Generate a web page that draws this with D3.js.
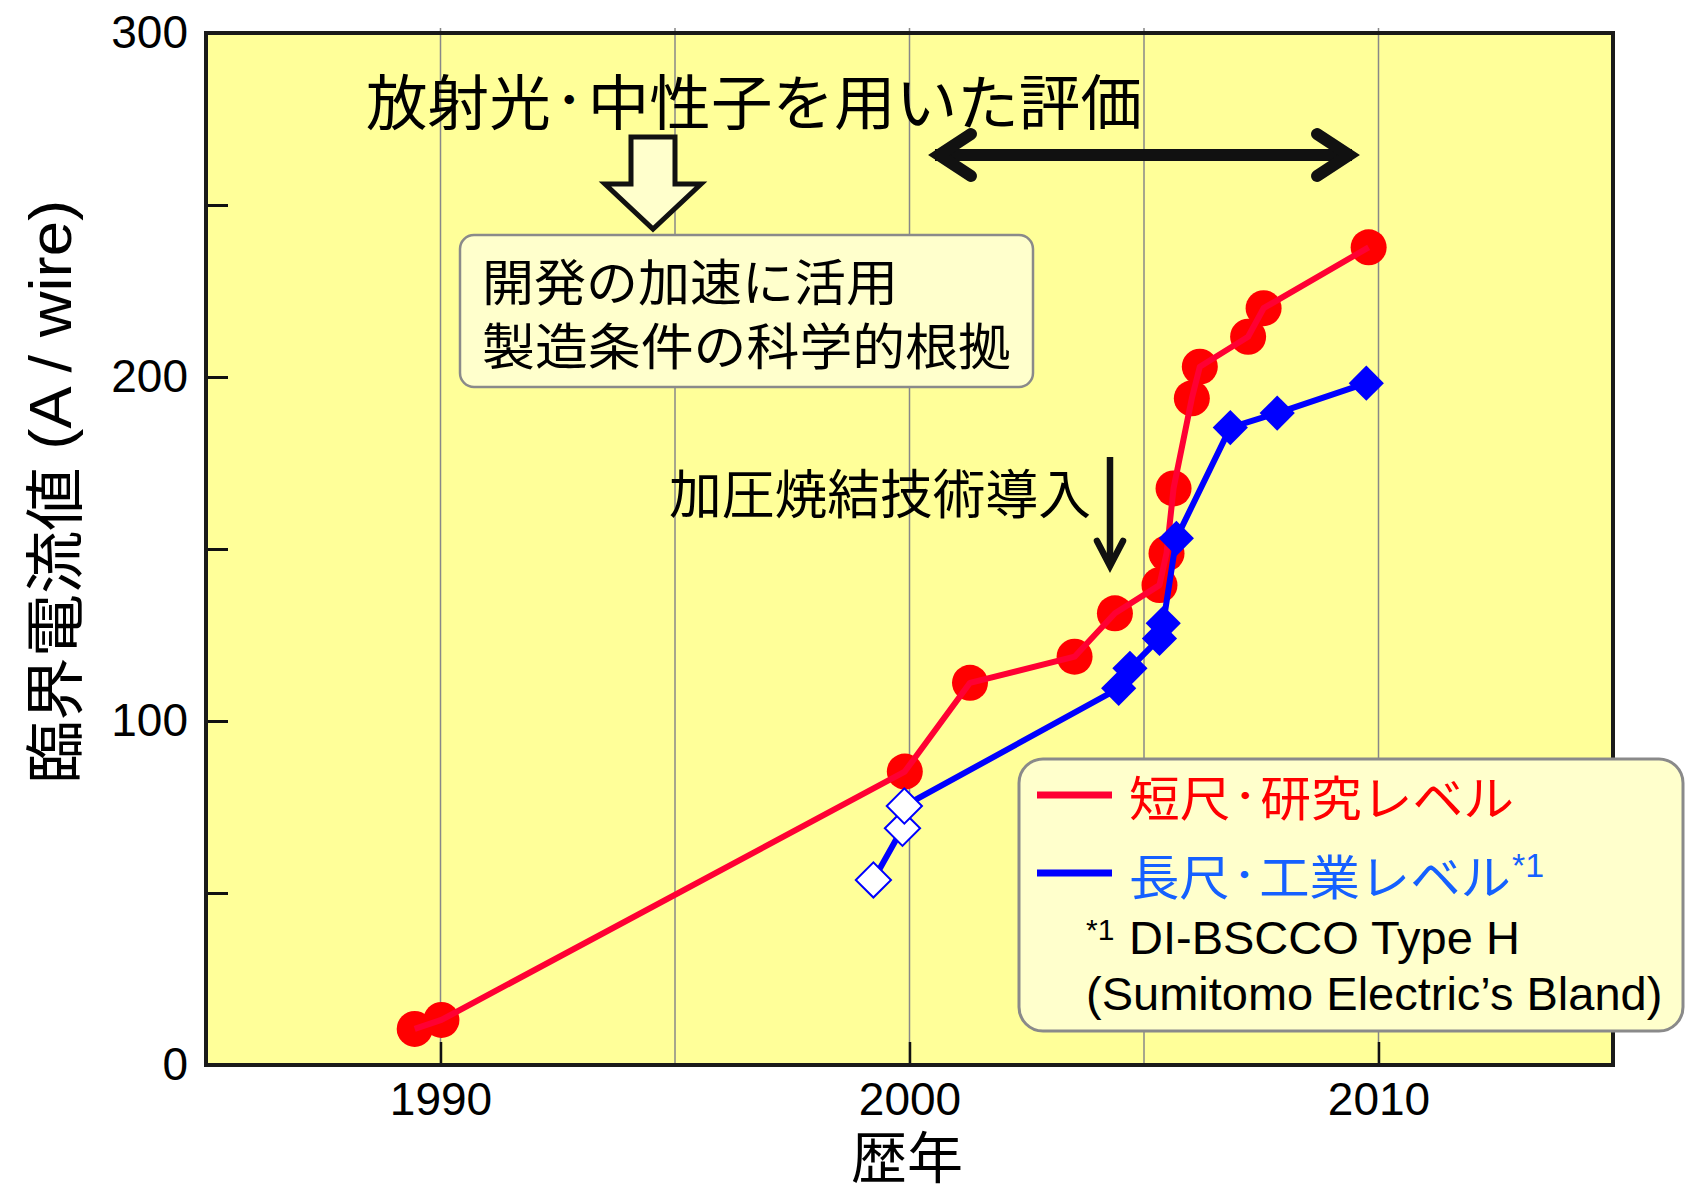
<!DOCTYPE html>
<html><head><meta charset="utf-8">
<script src="https://cdn.jsdelivr.net/npm/d3@7"></script>
<style>
body{margin:0;background:#fff;}
svg{display:block;}
</style></head>
<body>
<script>
// ---- data ----
const redYears  = [1989.45, 1990.02, 1999.90, 2001.29, 2003.52, 2004.38, 2005.33, 2005.48, 2005.63, 2006.02, 2006.19, 2007.22, 2007.55, 2009.79];
const redValues = [10.5, 13.1, 85.3, 111.1, 118.7, 131.3, 139.5, 148.7, 167.6, 193.8, 203.0, 211.7, 220.0, 237.7];
const blueYears  = [1999.23, 1999.85, 1999.89, 2004.46, 2004.70, 2005.33, 2005.41, 2005.69, 2006.84, 2007.84, 2009.74];
const blueValues = [53.8, 68.8, 75.3, 109.5, 115.3, 124.0, 128.4, 153.1, 185.3, 189.5, 198.2];
const blueOpen   = [true, true, true, false, false, false, false, false, false, false, false];
const xTickValues = [1990, 2000, 2010];
const gridYears   = [1990, 1995, 2000, 2005, 2010];
const yTickValues = [0, 50, 100, 150, 200, 250, 300];
const yLabelValues = [0, 100, 200, 300];
const xDomain = [1985, 2015];
const yDomain = [0, 300];
const titleParts = ["放射光", "・", "中性子を用いた評価"];
const boxLines = ["開発の加速に活用", "製造条件の科学的根拠"];
const sinterText = "加圧焼結技術導入";
const legendRedParts = ["短尺", "・", "研究レベル"];
const legendBlueParts = ["長尺", "・", "工業レベル"];
const noteMark = "*1";
const noteLine1 = "DI-BSCCO Type H";
const noteLine2 = "(Sumitomo Electric’s Bland)";
const yTitleJa = "臨界電流値";
const yTitleEn = " (A / wire)";
const xTitle = "歴年";

const JA = "'Noto Sans CJK JP', sans-serif";
const EN = "'Liberation Sans', Arial, sans-serif";

const W = 1686, H = 1196;
const svg = d3.select("body").append("svg").attr("width", W).attr("height", H);

const x = d3.scaleLinear().domain(xDomain).range([206, 1613]);
const y = d3.scaleLinear().domain(yDomain).range([1065, 33]);

// plot background
svg.append("rect").attr("x", x(xDomain[0])).attr("y", y(yDomain[1]))
  .attr("width", x(xDomain[1]) - x(xDomain[0])).attr("height", y(yDomain[0]) - y(yDomain[1]))
  .attr("fill", "#ffff99");

// gridlines
svg.append("g").selectAll("line").data(gridYears).join("line")
  .attr("x1", d => x(d)).attr("x2", d => x(d))
  .attr("y1", y(yDomain[1]) - 5).attr("y2", y(yDomain[0]))
  .attr("stroke", "#888").attr("stroke-width", 1.5);

// axes
const yAxis = d3.axisLeft(y).tickValues(yTickValues).tickSize(-22).tickPadding(18)
  .tickFormat(d => yLabelValues.includes(d) ? d : "");
const gy = svg.append("g").attr("transform", `translate(${x(xDomain[0])},0)`).call(yAxis);
gy.select(".domain").remove();
gy.selectAll(".tick line").attr("stroke", "#111").attr("stroke-width", 3);
gy.selectAll(".tick text").attr("font-family", EN).attr("font-size", 46).attr("fill", "#000")
  .attr("dy", "0.32em");

const xAxis = d3.axisBottom(x).tickValues(xTickValues).tickSize(-23).tickPadding(17).tickFormat(d3.format("d"));
const gx = svg.append("g").attr("transform", `translate(0,${y(yDomain[0])})`).call(xAxis);
gx.select(".domain").remove();
gx.selectAll(".tick line").attr("stroke", "#111").attr("stroke-width", 2.5);
gx.selectAll(".tick text").attr("font-family", EN).attr("font-size", 46).attr("fill", "#000");

// frame
svg.append("rect").attr("x", x(xDomain[0])).attr("y", y(yDomain[1]))
  .attr("width", x(xDomain[1]) - x(xDomain[0])).attr("height", y(yDomain[0]) - y(yDomain[1]))
  .attr("fill", "none").attr("stroke", "#1a1a1a").attr("stroke-width", 4);

// axis titles
const yt = svg.append("text")
  .attr("transform", "translate(50,492) rotate(-90)")
  .attr("text-anchor", "middle").attr("dominant-baseline", "central")
  .attr("font-size", 60).attr("fill", "#000")
  .attr("textLength", 584).attr("lengthAdjust", "spacingAndGlyphs");
yt.append("tspan").attr("font-family", JA).attr("dominant-baseline", "central").text(yTitleJa);
yt.append("tspan").attr("font-family", EN).attr("dominant-baseline", "central").text(yTitleEn);

svg.append("text").attr("x", 907).attr("y", 1178)
  .attr("text-anchor", "middle")
  .attr("font-family", JA).attr("font-size", 56).attr("fill", "#000").text(xTitle);

// helper: text with a narrower middle dot
function dotText(parts, xPos, yPos, size, dotSize, len, color) {
  const t = svg.append("text").attr("x", xPos).attr("y", yPos).attr("dominant-baseline", "central")
    .attr("font-family", JA).attr("font-size", size).attr("fill", color)
    .attr("textLength", len).attr("lengthAdjust", "spacingAndGlyphs");
  t.append("tspan").attr("dominant-baseline", "central").text(parts[0]);
  t.append("tspan").attr("dominant-baseline", "central").attr("font-size", dotSize)
    .attr("font-weight", "bold").text(parts[1]);
  t.append("tspan").attr("dominant-baseline", "central").text(parts[2]);
  return t;
}

// title annotation
dotText(titleParts, 366, 98, 60, 36, 776, "#000");

// double arrow
const arrowG = svg.append("g").attr("stroke", "#111").attr("fill", "none").attr("stroke-width", 12);
arrowG.append("line").attr("x1", 935).attr("x2", 1352).attr("y1", 155).attr("y2", 155);
arrowG.append("path").attr("d", "M971,134 L939,155 L971,176")
  .attr("stroke-linejoin", "miter").attr("stroke-linecap", "round");
arrowG.append("path").attr("d", "M1317,134 L1349,155 L1317,176")
  .attr("stroke-linejoin", "miter").attr("stroke-linecap", "round");

// hollow arrow
svg.append("path").attr("d", "M631,137 L675,137 L675,184 L701,184 L653,229 L605,184 L631,184 Z")
  .attr("fill", "#ffffcc").attr("stroke", "#111").attr("stroke-width", 5).attr("stroke-linejoin", "miter");

// annotation box
svg.append("rect").attr("x", 460).attr("y", 235).attr("width", 573).attr("height", 152)
  .attr("rx", 14).attr("fill", "#ffffcc").attr("stroke", "#8a8a8a").attr("stroke-width", 2.5);
svg.append("text").attr("x", 482).attr("y", 279).attr("dominant-baseline", "central")
  .attr("font-family", JA).attr("font-size", 50).attr("fill", "#000")
  .attr("textLength", 416).attr("lengthAdjust", "spacingAndGlyphs").text(boxLines[0]);
svg.append("text").attr("x", 482).attr("y", 343).attr("dominant-baseline", "central")
  .attr("font-family", JA).attr("font-size", 50).attr("fill", "#000")
  .attr("textLength", 529).attr("lengthAdjust", "spacingAndGlyphs").text(boxLines[1]);

// sintering annotation
svg.append("text").attr("x", 669).attr("y", 491).attr("dominant-baseline", "central")
  .attr("font-family", JA).attr("font-size", 53).attr("fill", "#000")
  .attr("textLength", 422).attr("lengthAdjust", "spacingAndGlyphs").text(sinterText);
const da = svg.append("g").attr("stroke", "#111").attr("fill", "none").attr("stroke-width", 6.5);
da.append("line").attr("x1", 1110).attr("x2", 1110).attr("y1", 457).attr("y2", 562);
da.append("path").attr("d", "M1097,541 L1110,566 L1123,541").attr("stroke-linejoin", "miter").attr("stroke-linecap", "round");

// red series: markers, then line on top
const redData = redYears.map((yr, i) => ({x: yr, v: redValues[i]}));
svg.append("g").selectAll("circle").data(redData).join("circle")
  .attr("cx", d => x(d.x)).attr("cy", d => y(d.v)).attr("r", 18).attr("fill", "#ff0000");
svg.append("path").datum(redData)
  .attr("d", d3.line().x(d => x(d.x)).y(d => y(d.v)))
  .attr("fill", "none").attr("stroke", "#ff0033").attr("stroke-width", 6).attr("stroke-linejoin", "round");

// blue series: line, then markers
const blueData = blueYears.map((yr, i) => ({x: yr, v: blueValues[i], open: blueOpen[i]}));
svg.append("path").datum(blueData)
  .attr("d", d3.line().x(d => x(d.x)).y(d => y(d.v)))
  .attr("fill", "none").attr("stroke", "#0000ff").attr("stroke-width", 6).attr("stroke-linejoin", "round");
const diamond = d3.symbol(d3.symbolSquare, 620);
svg.append("g").selectAll("path").data(blueData).join("path")
  .attr("d", diamond)
  .attr("transform", d => `translate(${x(d.x)},${y(d.v)}) rotate(45)`)
  .attr("fill", d => d.open ? "#ffffff" : "#0000ff")
  .attr("stroke", "#0000ff").attr("stroke-width", d => d.open ? 2 : 0);

// legend box
svg.append("rect").attr("x", 1019).attr("y", 759).attr("width", 664).attr("height", 272)
  .attr("rx", 24).attr("fill", "#ffffcc").attr("stroke", "#8a8a8a").attr("stroke-width", 3);
svg.append("line").attr("x1", 1037).attr("x2", 1112).attr("y1", 795).attr("y2", 795)
  .attr("stroke", "#ff0033").attr("stroke-width", 7);
svg.append("line").attr("x1", 1037).attr("x2", 1112).attr("y1", 873).attr("y2", 873)
  .attr("stroke", "#0000ff").attr("stroke-width", 7);
dotText(legendRedParts, 1129, 795, 48, 28, 385, "#ff0000");
dotText(legendBlueParts, 1129, 874, 48, 28, 382, "#1560ff");
svg.append("text").attr("x", 1512).attr("y", 877)
  .attr("font-family", EN).attr("font-size", 34).attr("fill", "#1560ff").text(noteMark);
svg.append("text").attr("x", 1086).attr("y", 940)
  .attr("font-family", EN).attr("font-size", 30).attr("fill", "#000").text(noteMark);
svg.append("text").attr("x", 1129).attr("y", 954)
  .attr("font-family", EN).attr("font-size", 47).attr("fill", "#000").text(noteLine1);
svg.append("text").attr("x", 1086).attr("y", 1010)
  .attr("font-family", EN).attr("font-size", 47).attr("fill", "#000").text(noteLine2);
</script>
</body></html>
